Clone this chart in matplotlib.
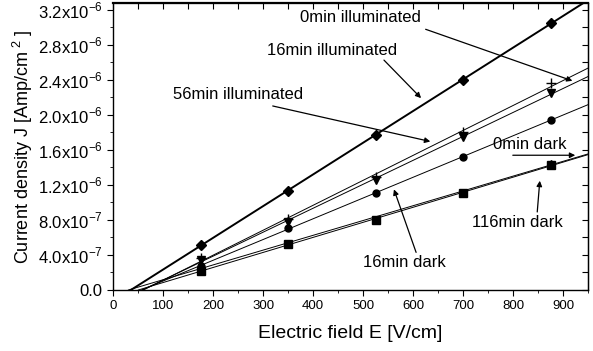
import matplotlib
matplotlib.use("Agg")
import matplotlib.pyplot as plt
import numpy as np
from matplotlib.ticker import MultipleLocator, FuncFormatter

plt.rcParams["font.family"] = ["Liberation Sans", "DejaVu Sans"]
plt.rcParams["mathtext.fontset"] = "custom"
plt.rcParams["mathtext.rm"] = "Liberation Sans"

# field values [V/cm]
field = [175, 350, 525, 700, 875]

# current density series [A/cm^2]
diamond = [5.15e-7, 1.13e-6, 1.77e-6, 2.40e-6, 3.05e-6]
plus = [3.6e-7, 8.1e-7, 1.29e-6, 1.80e-6, 2.36e-6]
tri_down = [3.4e-7, 7.8e-7, 1.26e-6, 1.75e-6, 2.25e-6]
circle = [2.7e-7, 7.1e-7, 1.11e-6, 1.52e-6, 1.94e-6]
tri_up = [2.6e-7, 5.4e-7, 8.1e-7, 1.12e-6, 1.45e-6]
square = [2.2e-7, 5.2e-7, 8.0e-7, 1.11e-6, 1.43e-6]

series = [
    (diamond, "D", 1.4, 5),
    (plus, "+", 0.7, 7),
    (tri_down, "v", 0.7, 6),
    (circle, "o", 0.7, 5),
    (tri_up, "^", 0.7, 5),
    (square, "s", 0.7, 5.5),
]

# annotation texts, text position, arrow tail and arrow tip (data coords)
notes = [
    ("0min illuminated", (374, 3.11e-6), (620, 2.99e-6), (924, 2.38e-6)),
    ("16min illuminated", (308, 2.74e-6), (538, 2.65e-6), (620, 2.17e-6)),
    ("56min illuminated", (120, 2.23e-6), (314, 2.11e-6), (640, 1.69e-6)),
    ("116min dark", (718, 7.7e-7), (848, 8.6e-7), (854, 1.28e-6)),
    ("16min dark", (500, 3.1e-7), (608, 4.0e-7), (560, 1.18e-6)),
]

fig = plt.figure(figsize=(5.93, 3.51), dpi=100)
ax = fig.add_axes([0.1906, 0.1738, 0.8010, 0.8177])

for vals, mk, lw, ms in series:
    k, b = np.polyfit(field, vals, 1)
    x0 = -b / k
    xx = np.array([x0, 950])
    ax.plot(xx, k * xx + b, color="black", lw=lw)
    ax.plot(field, vals, mk, color="black", ms=ms, mew=1.0)

for txt, tpos, tail, tip in notes:
    ax.text(tpos[0], tpos[1], txt, fontsize=12, va="center", ha="left")
    ax.annotate("", xy=tip, xytext=tail,
                arrowprops=dict(arrowstyle="-|>", color="black", lw=0.9,
                                mutation_scale=8))

# "0min dark" with arrow under it
ax.text(760, 1.66e-6, "0min dark", fontsize=12, va="center", ha="left")
ax.annotate("", xy=(930, 1.54e-6), xytext=(794, 1.54e-6),
            arrowprops=dict(arrowstyle="-|>", color="black", lw=0.9,
                            mutation_scale=8))

ax.set_xlim(0, 950)
ax.set_ylim(0, 3.28e-6)
ax.xaxis.set_major_locator(MultipleLocator(100))
ax.xaxis.set_minor_locator(MultipleLocator(50))
ax.yaxis.set_major_locator(MultipleLocator(4e-7))
ax.yaxis.set_minor_locator(MultipleLocator(2e-7))


def yfmt(v, pos):
    if abs(v) < 1e-12:
        return "0.0"
    e = int(np.floor(np.log10(abs(v)) + 1e-9))
    m = v / 10 ** e
    return r"%.1fx10$^{%d}$" % (m, e)


ax.yaxis.set_major_formatter(FuncFormatter(yfmt))
ax.tick_params(which="both", direction="out")
ax.tick_params(axis="x", labelsize=9.5)
ax.tick_params(axis="y", labelsize=12)
ax.tick_params(which="major", length=4)
ax.tick_params(which="minor", length=2.5)

top = ax.secondary_xaxis("top")
top.set_xticks(np.arange(0, 951, 50))
top.tick_params(direction="in", length=4, labeltop=False)
right = ax.secondary_yaxis("right")
right.set_yticks(np.arange(0, 3.3e-6, 2e-7))
right.tick_params(direction="in", length=4, labelright=False)

for s in ax.spines.values():
    s.set_linewidth(1.0)
ax.spines["top"].set_linewidth(1.6)

ax.set_xlabel("Electric field E [V/cm]", fontsize=14, labelpad=9)
ax.set_ylabel(r"Current density J [Amp/cm$^{\ 2}$ ]", fontsize=13, labelpad=2)

fig.savefig("out.png", dpi=100)
